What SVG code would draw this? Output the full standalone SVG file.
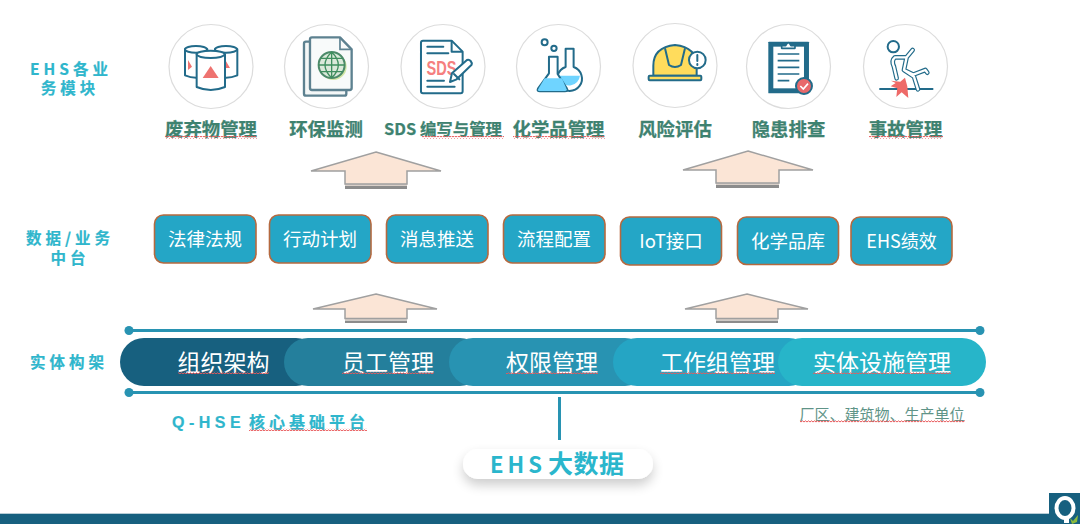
<svg xmlns="http://www.w3.org/2000/svg" width="1080" height="524" viewBox="0 0 1080 524">
<style>
text{font-family:"Noto Sans CJK SC","Liberation Sans",sans-serif;text-anchor:middle}
.c{fill:#fff;stroke:#dcdcdc;stroke-width:1.2}
.m{font-size:18.400px;font-weight:700;fill:#3e8270;stroke:#3e8270;stroke-width:.25}
.s{font-size:15.500px;font-weight:700;fill:#2fb6cc;letter-spacing:4px;stroke:#2fb6cc;stroke-width:.2}
.b{fill:#24a6c6;stroke:#b5693f;stroke-width:1.6}
.bt{font-size:18.500px;fill:#fff}
.bar{font-size:23px;fill:#fff}
.w{fill:url(#wave)}
.i{fill:#fff;stroke:#226b8a;stroke-width:6;stroke-linejoin:round;stroke-linecap:round}
.n{fill:none;stroke:#226b8a;stroke-width:6;stroke-linejoin:round;stroke-linecap:round}
.af{fill:#fbe5d6;stroke:#a0a0a0;stroke-width:1.5}
.ab{fill:#8c8c8c}
.as{fill:#d8cfc8}
.rl{stroke:#2893b2;stroke-width:3}
.d{fill:#2893b2}
</style>
<defs>
<pattern id="wave" width="3" height="3" patternUnits="userSpaceOnUse"><path d="M0 2L1.5 .8L3 2" fill="none" stroke="#e8595b" stroke-width="1"/></pattern>
<filter id="sh" x="-20%" y="-80%" width="140%" height="300%"><feGaussianBlur in="SourceAlpha" stdDeviation="6"/><feOffset dy="6"/><feComponentTransfer><feFuncA type="linear" slope=".2"/></feComponentTransfer><feMerge><feMergeNode/><feMergeNode in="SourceGraphic"/></feMerge></filter>
</defs>
<rect width="1080" height="524" fill="#fff"/>

<g id="label-modules"><text class="s" x="71" y="75">EHS各业</text><text class="s" x="70" y="94">务模块</text></g>
<g id="label-platform"><text class="s" x="70" y="244">数据/业务</text><text class="s" x="70" y="264">中台</text></g>
<g id="label-entity"><text class="s" x="69" y="368">实体构架</text></g>

<g id="node-waste">
<circle class="c" cx="211" cy="66.500" r="42"/>
<g transform="translate(150 10) scale(.3333)">
<path class="i" d="M105 118v78q33 14 67 0v-78z"/><ellipse class="i" cx="138" cy="118" rx="33" ry="10"/>
<path class="i" d="M195 118v78q33 14 67 0v-78z"/><ellipse class="i" cx="228" cy="118" rx="33" ry="10"/>
<path d="M126 170l-12-20v30zM226 150l14 24h-14z" fill="#ee7370"/>
<path class="i" d="M140 133v98q42 18 85 0v-98z"/><ellipse class="i" cx="182" cy="133" rx="42" ry="11"/>
<path d="M182 168l-24 36h48z" fill="#ee7370"/>
</g>
<text class="m" x="211" y="136">废弃物管理</text><rect class="w" x="165" y="136" width="92" height="3"/>
</g>

<g id="node-env">
<circle class="c" cx="326.500" cy="66.500" r="42"/>
<g transform="translate(150 10) scale(.3333)">
<path d="M480 95h-12q-6 0-6 6v150q0 6 6 6h115q6 0 6-6v-10" fill="#f4f7f7" stroke="#5d8190" stroke-width="7"/>
<path d="M486 82h84l35 36v116q0 6-6 6h-113q-6 0-6-6v-146q0-6 6-6z" fill="#f8fafa" stroke="#5d8190" stroke-width="7" stroke-linejoin="round"/>
<path d="M570 84v34h33" fill="none" stroke="#5d8190" stroke-width="5"/>
<circle cx="550" cy="170" r="40" fill="#b9d86a" opacity=".6"/>
<circle cx="545" cy="165" r="39" fill="#dbe9da" stroke="#4d8a6a" stroke-width="6"/>
<path d="M506 165h78M512 145h66M512 185h66M545 126v78M545 126q-40 39 0 78M545 126q40 39 0 78" fill="none" stroke="#3f8e5e" stroke-width="4"/>
</g>
<text class="m" x="326" y="136">环保监测</text>
</g>

<g id="node-sds">
<circle class="c" cx="443" cy="66.500" r="42"/>
<g transform="translate(150 10) scale(.3333)">
<path class="i" d="M819 92h86l33 33v119q0 6-6 6h-113q-6 0-6-6v-146q0-6 6-6z"/>
<path class="n" d="M905 94v31h31M832 110h48M832 130h63M832 212h50M832 230h82"/>
</g>
<text x="441.500" y="75" font-size="21" font-weight="700" fill="#f57f7f" textLength="30" lengthAdjust="spacingAndGlyphs" style="font-family:'Liberation Sans',sans-serif">SDS</text>
<g transform="translate(150 10) scale(.3333)">
<path class="i" d="M900 216l6-26 45-40q6-3 11 3t3 11l-45 44z" fill="#fff"/><path class="n" d="M912 192l16 16"/>
</g>
<text class="m" x="443" y="135" style="font-size:16.400px">SDS 编写与管理</text><rect class="w" x="422" y="136" width="82" height="3"/>
</g>

<g id="node-chem">
<circle class="c" cx="558.500" cy="66.500" r="42"/>
<g transform="translate(150 10) scale(.3333)">
<circle class="n" cx="1184" cy="97" r="9"/><circle class="n" cx="1212" cy="115" r="8"/>
<path d="M1247 116h24v55a37 37 0 1 1-24 0z" fill="#fff" stroke="#226b8a" stroke-width="6" stroke-linejoin="round"/>
<path d="M1228 197h62a33 33 0 0 1-62 12z" fill="#6fd4ff"/>
<path d="M1197 140h26v52l28 44q4 8-6 8h-75q-10 0-6-8l33-46z" fill="#fff" stroke="#226b8a" stroke-width="6" stroke-linejoin="round"/>
<path d="M1184 205h52l14 33q2 5-6 5h-74q-8 0-5-6z" fill="#6fd4ff"/>
</g>
<text class="m" x="558.500" y="136">化学品管理</text><rect class="w" x="513" y="136" width="92" height="3"/>
</g>

<g id="node-risk">
<circle class="c" cx="675" cy="65.500" r="42"/>
<g transform="translate(610 10) scale(.3333)">
<path d="M130 197v-30q0-55 65-62q65 7 65 62v30z" fill="#ffdc5c" stroke="#226b8a" stroke-width="6" stroke-linejoin="round"/>
<path d="M165 115l12 50q18 12 36 0l12-50" fill="#ffdc5c" stroke="#226b8a" stroke-width="6" stroke-linejoin="round"/>
<rect x="116" y="197" width="158" height="14" rx="3" fill="#ffdc5c" stroke="#226b8a" stroke-width="6"/>
<circle cx="262" cy="150" r="25" fill="#fff" stroke="#226b8a" stroke-width="6"/>
<path d="M262 135v18M262 162v3" stroke="#226b8a" stroke-width="6" stroke-linecap="round"/>
</g>
<text class="m" x="675" y="136">风险评估</text>
</g>

<g id="node-hazard">
<circle class="c" cx="788.500" cy="66.500" r="42"/>
<g transform="translate(610 10) scale(.3333)">
<rect x="475" y="95" width="122" height="155" rx="2" fill="#226b8a"/>
<rect x="490" y="110" width="92" height="125" fill="#fff"/>
<path d="M515 115v-8h12q8-18 16 0h12v8z" fill="#fff" stroke="#226b8a" stroke-width="5" stroke-linejoin="round"/>
<path d="M503 132h65M503 152h65M503 172h65M503 192h65M503 212h35" stroke="#226b8a" stroke-width="5"/>
<circle cx="582" cy="228" r="24" fill="#e8696b" stroke="#226b8a" stroke-width="6"/>
<path d="M571 228l9 9 14-16" fill="none" stroke="#fff" stroke-width="5"/>
</g>
<text class="m" x="788.500" y="136">隐患排查</text>
</g>

<g id="node-accident">
<circle class="c" cx="905.500" cy="66.500" r="42"/>
<g transform="translate(610 10) scale(.3333)">
<circle class="n" cx="850" cy="110" r="17"/>
<path d="M808 237h162" stroke="#226b8a" stroke-width="6"/>
<path d="M908 120l-18 22h-35q-12 10-3 28l8 35M890 142l-8 38l28 14l36-14l6 8M882 180l30 20l12 38" fill="none" stroke="#226b8a" stroke-width="14" stroke-linejoin="round" stroke-linecap="round"/>
<path d="M908 120l-18 22h-35q-12 10-3 28l8 35M890 142l-8 38l28 14l36-14l6 8M882 180l30 20l12 38" fill="none" stroke="#fff" stroke-width="7" stroke-linejoin="round" stroke-linecap="round"/>
<path d="M843 212l28 3 14-12 7 26 3 35-20-17-16 14 3-26-20-6 15-10z" fill="#ee6a68"/>
</g>
<text class="m" x="905.500" y="136">事故管理</text><rect class="w" x="869" y="136" width="74" height="3"/>
</g>

<g id="connectors">
<path class="ab" d="M345 186h62v3h-62zM716 185h63v3h-63zM345 320.500h62v2.500h-62zM716 320.500h62v2.500h-62z"/>
<path class="as" d="M345 183h62v3h-62zM716 182h63v3h-63zM345 318h62v2.500h-62zM716 318h62v2.500h-62z"/>
<path class="af" d="M376 152l65 19h-34v13h-62v-13h-34z"/>
<path class="af" d="M748 151l65 19h-34v13h-63v-13h-33z"/>
<path class="af" d="M376 294l61 15h-30v9.500h-62v-9.500h-32z"/>
<path class="af" d="M747 294l61 15h-30v9.500h-62v-9.500h-31z"/>
<path d="M559.500 397v43" stroke="#2893b2" stroke-width="3"/>
</g>

<g id="node-law"><rect class="b" x="154.500" y="215" width="101.500" height="48" rx="9"/><text class="bt" x="205" y="246">法律法规</text></g>
<g id="node-plan"><rect class="b" x="269.500" y="215" width="101.500" height="48" rx="9"/><text class="bt" x="320" y="246">行动计划</text></g>
<g id="node-msg"><rect class="b" x="386.500" y="215" width="101.500" height="48" rx="9"/><text class="bt" x="437" y="246">消息推送</text></g>
<g id="node-flow"><rect class="b" x="503.500" y="215" width="101.500" height="48" rx="9"/><text class="bt" x="554" y="246">流程配置</text></g>
<g id="node-iot"><rect class="b" x="620.500" y="217" width="101" height="48" rx="9"/><text class="bt" x="671" y="248">IoT接口</text></g>
<g id="node-chemdb"><rect class="b" x="737.500" y="217" width="101" height="47.500" rx="9"/><text class="bt" x="788" y="248">化学品库</text></g>
<g id="node-perf"><rect class="b" x="851" y="217" width="101" height="48" rx="9"/><text class="bt" x="901.500" y="247.500" style="font-size:18px">EHS绩效</text></g>

<g id="rails">
<path class="rl" d="M129 330.500h851M129 392.500h851"/>
<circle class="d" cx="129" cy="330.500" r="4.500"/><circle class="d" cx="980" cy="330.500" r="4.500"/>
<circle class="d" cx="129" cy="392.500" r="4.500"/><circle class="d" cx="980" cy="392.500" r="4.500"/>
</g>

<g id="entity-bar">
<rect x="120" y="338" width="200" height="48" rx="24" fill="#17607f"/>
<rect x="284" y="338" width="200" height="48" rx="24" fill="#247f9c"/>
<rect x="449" y="338" width="200" height="48" rx="24" fill="#2893b2"/>
<rect x="613" y="338" width="200" height="48" rx="24" fill="#25a5c4"/>
<rect x="778" y="338" width="208" height="48" rx="24" fill="#27b5c9"/>
<text class="bar" x="223.500" y="371">组织架构</text><rect class="w" x="178" y="371" width="91" height="3"/>
<text class="bar" x="388" y="371">员工管理</text><rect class="w" x="342" y="371" width="92" height="3"/>
<text class="bar" x="552" y="371">权限管理</text><rect class="w" x="506" y="371" width="92" height="3"/>
<text class="bar" x="717.500" y="371">工作组管理</text><rect class="w" x="660" y="371" width="115" height="3"/>
<text class="bar" x="882" y="371">实体设施管理</text><rect class="w" x="813" y="371" width="138" height="3"/>
</g>

<g id="label-core"><text class="s" x="172" y="428" style="text-anchor:start;font-size:16px;letter-spacing:4.500px;font-family:'Liberation Sans',sans-serif">Q-HSE</text><text class="s" x="249" y="428" style="text-anchor:start;font-size:16px;letter-spacing:4px">核心基础平台</text><rect class="w" x="249" y="428" width="118" height="3"/></g>
<g id="label-plant"><text x="882" y="420" font-size="15" fill="#5f9488">厂区、建筑物、生产单位</text><rect class="w" x="800" y="420" width="165" height="3"/></g>

<g id="node-bigdata"><rect x="463" y="449" width="190" height="30" rx="15" fill="#fff" filter="url(#sh)"/><text x="490" y="473" font-weight="700" fill="#2ab6cc" style="text-anchor:start"><tspan font-size="22" letter-spacing="4">EHS</tspan><tspan dx="2" font-size="25" letter-spacing="0.500">大数据</tspan></text></g>

<g id="footer">
<rect y="513" width="1080" height="1" fill="#b8cdd6"/>
<rect y="514" width="1080" height="10" fill="#17607f"/>
<rect x="1049" y="493" width="31" height="31" fill="#17607f"/>
<ellipse cx="1065" cy="508" rx="8.500" ry="10" fill="none" stroke="#fff" stroke-width="4"/>
<path d="M1064 516h5v7h-5z" fill="#fff"/>
<path d="M1070 518l3 3 5-6-1 7-5 2z" fill="#8dbb3d"/>
</g>
</svg>
